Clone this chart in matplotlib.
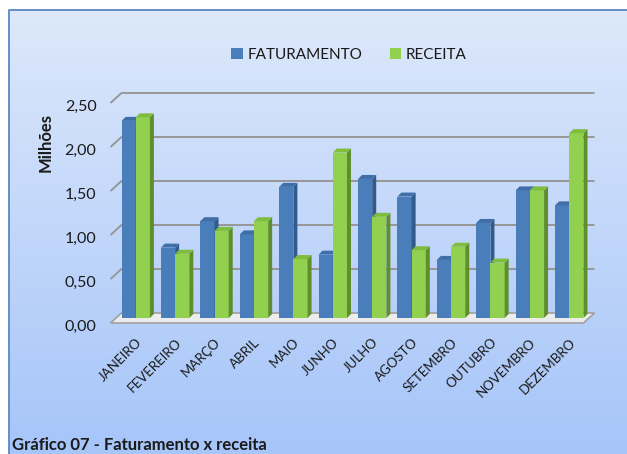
import numpy as np
import matplotlib
matplotlib.use("Agg")
import matplotlib.pyplot as plt
from matplotlib.patches import Polygon, Patch
from matplotlib.lines import Line2D
from matplotlib.transforms import ScaledTranslation

plt.rcParams['font.family'] = ['Lato', 'DejaVu Sans']

months = ["JANEIRO", "FEVEREIRO", "MARÇO", "ABRIL", "MAIO", "JUNHO", "JULHO",
          "AGOSTO", "SETEMBRO", "OUTUBRO", "NOVEMBRO", "DEZEMBRO"]
faturamento = [2.24, 0.80, 1.10, 0.95, 1.49, 0.72, 1.58, 1.38, 0.66, 1.08, 1.45, 1.28]
receita = [2.28, 0.73, 0.99, 1.10, 0.67, 1.88, 1.15, 0.77, 0.81, 0.63, 1.45, 2.10]
yticks = [0.0, 0.5, 1.0, 1.5, 2.0, 2.5]
ytick_labels = ["0,00", "0,50", "1,00", "1,50", "2,00", "2,50"]
series_names = ["FATURAMENTO", "RECEITA"]
title_text = "Gráfico 07 - Faturamento x receita"
ylabel_text = "Milhões"

W, H = 627, 454
DPI = 100
fig = plt.figure(figsize=(W / DPI, H / DPI), dpi=DPI)

# background gradient
bg = fig.add_axes([0, 0, 1, 1], zorder=-10)
bg.set_axis_off()
top_c = np.array([0xde, 0xe9, 0xfb]) / 255
bot_c = np.array([0xa6, 0xc5, 0xf9]) / 255
t = np.linspace(0, 1, 256)[:, None]
grad = top_c[None, :] * (1 - t[:, :, None]) + bot_c[None, :] * t[:, :, None]
grad = np.repeat(grad, 2, axis=1)
bg.imshow(grad, aspect='auto', extent=[0, 1, 0, 1], origin='upper')
bg.set_xlim(0, 1); bg.set_ylim(0, 1)
# white margin outside the border
bg.add_patch(plt.Rectangle((0, 0), 8 / W, 1, color='white', zorder=2))
bg.add_patch(plt.Rectangle((0, 1 - 9 / H), 1, 9 / H, color='white', zorder=2))
bg.add_line(Line2D([8.5 / W, 8.5 / W, 1], [0, 1 - 9.5 / H, 1 - 9.5 / H],
                   color='#5b87c3', lw=1.3, zorder=3))

# plot area (mid-depth plane)
L, R, B, T = 116, 589, 318, 98
ax = fig.add_axes([L / W, (H - B) / H, (R - L) / W, (B - T) / H])
ax.set_xlim(-0.5, 11.5)
ax.set_ylim(0, 2.5)
ax.patch.set_alpha(0)
for s in ax.spines.values():
    s.set_visible(False)

px_x = (R - L) / 12.0   # px per x unit
px_y = (B - T) / 2.5    # px per y unit
gdx, gdy = 5.5 / px_x, 5.0 / px_y   # half wall depth
bdx, bdy = 4.0 / px_x, 4.0 / px_y   # bar depth

grid_c = '#979797'
# floor
floor = Polygon([(-0.5 - gdx, -gdy), (11.5 - gdx, -gdy), (11.5 + gdx, gdy), (-0.5 + gdx, gdy)],
                closed=True, facecolor='#ececec', edgecolor='#a0a0a0', lw=1.2,
                clip_on=False, zorder=1)
ax.add_patch(floor)
# back-wall gridlines with left diagonal
for v in yticks[1:]:
    ax.plot([-0.5 - gdx, -0.5 + gdx, 11.5 + gdx], [v - gdy, v + gdy, v + gdy],
            color=grid_c, lw=1.4, clip_on=False, zorder=0.5, solid_capstyle='butt')

w = 0.36
x = np.arange(len(months))
series = [(faturamento, -w, '#4a7ebb', '#315a8d', '#3f6ea9'),
          (receita, 0.0, '#92d050', '#5f8f2c', '#7fbd3f')]

for i in range(len(months)):
    for vals, off, cf, cs, ct in series:
        v = vals[i]
        xl = x[i] + off
        xr = xl + w
        ax.bar(xl, v, width=w, align='edge', color=cf, edgecolor='none', zorder=2 + i)
        ax.add_patch(Polygon([(xr, 0), (xr + bdx, bdy), (xr + bdx, v + bdy), (xr, v)],
                             closed=True, facecolor=cs, edgecolor='none', zorder=2 + i,
                             clip_on=False))
        ax.add_patch(Polygon([(xl, v), (xr, v), (xr + bdx, v + bdy), (xl + bdx, v + bdy)],
                             closed=True, facecolor=ct, edgecolor='none', zorder=2 + i,
                             clip_on=False))

# y ticks
ax.set_yticks(yticks)
ax.set_yticklabels(ytick_labels, fontsize=11.5, color='#1a1a1a')
ax.tick_params(axis='y', length=0, pad=14)
for lab in ax.get_yticklabels():
    lab.set_transform(lab.get_transform() + ScaledTranslation(0, -5 / 72, fig.dpi_scale_trans))

# x ticks
ax.set_xticks(x)
ax.set_xticklabels(months, rotation=45, ha='right', va='center', rotation_mode='anchor',
                   fontsize=9.5, color='#1a1a1a')
ax.tick_params(axis='x', length=0, pad=16)
for lab in ax.get_xticklabels():
    lab.set_transform(lab.get_transform() + ScaledTranslation(3 / 72, 0, fig.dpi_scale_trans))

fig.text(46 / W, 1 - 142 / H, ylabel_text, rotation=90, ha='center', va='center',
         fontsize=12, fontweight='bold', color='#1a1a1a')

handles = [Patch(facecolor='#4a7ebb', edgecolor='none'),
           Patch(facecolor='#92d050', edgecolor='none')]
fig.legend(handles, series_names, loc='center', bbox_to_anchor=(349 / W, 1 - 55 / H),
           ncol=2, frameon=False, fontsize=11, handlelength=0.75, handleheight=0.75,
           handletextpad=0.3, columnspacing=1.8, labelcolor='#1a1a1a')

fig.text(12 / W, 1 - 445 / H, title_text, ha='left', va='center', fontsize=12,
         fontweight='bold', color='#1a1a1a')

fig.savefig('out.png', dpi=DPI)
